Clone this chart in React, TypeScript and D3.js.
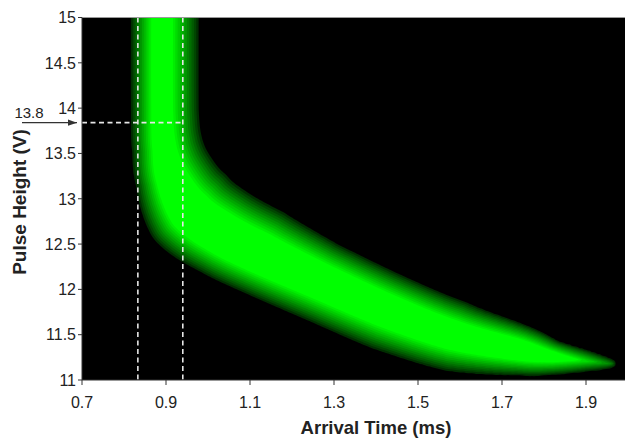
import React, { useMemo } from "react";
import * as d3 from "d3";

const xTicks = [0.7, 0.9, 1.1, 1.3, 1.5, 1.7, 1.9];
const yTicks = [11, 11.5, 12, 12.5, 13, 13.5, 14, 14.5, 15];
const yTickLabels = ["11", "11.5", "12", "12.5", "13", "13.5", "14", "14.5", "15"];

// ridge of the pulse-height / arrival-time density
const ridgeTime = [0.888, 0.888, 0.893, 0.910, 0.955, 1.029, 1.124, 1.267, 1.426, 1.583, 1.743, 1.821, 1.902, 1.962];
const ridgeHeight = [15.31, 13.98, 13.54, 13.21, 12.85, 12.60, 12.38, 12.09, 11.77, 11.50, 11.33, 11.26, 11.21, 11.18];
// half-width of the populated band above/right and below/left of the ridge (ms), relative peak density
const spreadUpper = [0.093, 0.093, 0.100, 0.114, 0.129, 0.124, 0.119, 0.100, 0.093, 0.086, 0.062, 0.040, 0.026, 0.010];
const spreadLower = [0.074, 0.074, 0.076, 0.085, 0.108, 0.102, 0.100, 0.100, 0.100, 0.090, 0.062, 0.045, 0.026, 0.010];
const ridgeDensity = [1.45, 1.45, 1.5, 1.65, 1.8, 1.85, 1.85, 1.8, 1.75, 1.7, 1.7, 1.45, 0.9, 0.4];

const levels = d3.range(12).map((i) => 0.05 + (i * 0.95) / 11);

const gateTimes = [0.833, 0.94];
const gateHeight = 13.84;
const gateLabel = "13.8";

export default function App() {
  const W = 625, H = 438;
  const left = 82, top = 17.5, bottom = 380, right = 628;
  const x = d3.scaleLinear().domain([0.7, 2.0]).range([left, right]);
  const y = d3.scaleLinear().domain([11, 15]).range([bottom, top]);

  const contours = useMemo(() => {
    const step = 2;
    const nx = Math.ceil((W - left) / step) + 2;
    const ny = Math.ceil((bottom - top) / step) + 2;
    const n = ridgeTime.length;
    const P = ridgeTime.map((t, i) => [x(t), y(ridgeHeight[i])]);
    const ru = spreadUpper.map((s, i) => x(ridgeTime[i] + s) - x(ridgeTime[i]));
    const rl = spreadLower.map((s, i) => x(ridgeTime[i] + s) - x(ridgeTime[i]));
    // dense Catmull-Rom sampling of the ridge
    const S: { x: number; y: number; ru: number; rl: number; a: number }[] = [];
    const sub = 8;
    for (let i = 0; i < n - 1; i++) {
      const p0 = P[Math.max(0, i - 1)], p1 = P[i], p2 = P[i + 1], p3 = P[Math.min(n - 1, i + 2)];
      for (let k = 0; k < sub; k++) {
        const t = k / sub, t2 = t * t, t3 = t2 * t;
        const cr = (a: number, b: number, c: number, d: number) =>
          0.5 * (2 * b + (-a + c) * t + (2 * a - 5 * b + 4 * c - d) * t2 + (-a + 3 * b - 3 * c + d) * t3);
        S.push({
          x: cr(p0[0], p1[0], p2[0], p3[0]),
          y: cr(p0[1], p1[1], p2[1], p3[1]),
          ru: ru[i] + t * (ru[i + 1] - ru[i]),
          rl: rl[i] + t * (rl[i + 1] - rl[i]),
          a: ridgeDensity[i] + t * (ridgeDensity[i + 1] - ridgeDensity[i]),
        });
      }
    }
    S.push({ x: P[n - 1][0], y: P[n - 1][1], ru: ru[n - 1], rl: rl[n - 1], a: ridgeDensity[n - 1] });

    const vals = new Float64Array(nx * ny);
    for (let j = 0; j < ny; j++) {
      const py = top + j * step;
      for (let i = 0; i < nx; i++) {
        const px = left + i * step;
        let best = 0;
        for (let k = 0; k < S.length - 1; k++) {
          const A0 = S[k], B0 = S[k + 1];
          const dx = B0.x - A0.x, dy = B0.y - A0.y;
          const L2 = dx * dx + dy * dy;
          if (L2 === 0) continue;
          let u = ((px - A0.x) * dx + (py - A0.y) * dy) / L2;
          u = Math.max(0, Math.min(1, u));
          const cx = A0.x + u * dx, cy = A0.y + u * dy;
          const d = Math.hypot(px - cx, py - cy);
          const cross = dx * (py - A0.y) - dy * (px - A0.x);
          const R = cross < 0 ? A0.ru + u * (B0.ru - A0.ru) : A0.rl + u * (B0.rl - A0.rl);
          const A = A0.a + u * (B0.a - A0.a);
          const v = A * Math.max(0, 1 - d / R);
          if (v > best) best = v;
        }
        vals[j * nx + i] = best;
      }
    }
    const cs = d3.contours().size([nx, ny]).thresholds(levels)(Array.from(vals));
    const path = d3.geoPath(d3.geoIdentity().scale(step).translate([left - 0.5 * step, top - 0.5 * step]) as any);
    return cs.map((c) => ({ value: c.value, d: path(c as any) || "" }));
  }, []);

  const color = (i: number) => d3.interpolateRgb("#002e00", "#00ff00")(Math.pow(i / (levels.length - 1), 0.9));
  const font = "'Liberation Sans', Arial, sans-serif";

  return (
    <svg width={W} height={H} style={{ position: "absolute", left: 0, top: 0, background: "#fff" }}>
      <defs>
        <clipPath id="plotclip">
          <rect x={left} y={top} width={W - left} height={bottom - top} />
        </clipPath>
        <marker id="arrow" viewBox="0 0 10 10" refX="10" refY="5" markerWidth="7" markerHeight="7" orient="auto">
          <path d="M0,1.5 L10,5 L0,8.5 z" fill="#333" />
        </marker>
      </defs>
      <rect x={left} y={top} width={W - left} height={bottom - top} fill="#000" />
      <g clipPath="url(#plotclip)">
        {contours.map((c, i) => (
          <path key={i} d={c.d} fill={color(i)} stroke="none" />
        ))}
        {gateTimes.map((t, i) => (
          <line key={i} x1={x(t)} x2={x(t)} y1={top} y2={bottom} stroke="#e6e6e6" strokeWidth={1.6} strokeDasharray="5,3.5" />
        ))}
        <line x1={left} x2={x(gateTimes[1])} y1={y(gateHeight)} y2={y(gateHeight)} stroke="#e6e6e6" strokeWidth={1.6} strokeDasharray="5,3.5" />
      </g>
      <line x1={left} x2={W} y1={top} y2={top} stroke="#9a9a9a" strokeWidth={1.2} />
      <line x1={left} x2={W} y1={bottom} y2={bottom} stroke="#333" strokeWidth={1} />
      <line x1={left} x2={left} y1={top} y2={bottom} stroke="#333" strokeWidth={1} />
      {xTicks.map((t) => (
        <g key={t}>
          <line x1={x(t)} x2={x(t)} y1={bottom} y2={bottom + 5} stroke="#333" />
          <text x={x(t)} y={408} textAnchor="middle" fontFamily={font} fontSize={16} fill="#222">
            {t.toFixed(1)}
          </text>
        </g>
      ))}
      {yTicks.map((v, i) => (
        <g key={v}>
          <line x1={left - 4} x2={left} y1={y(v)} y2={y(v)} stroke="#333" />
          <text x={left - 6} y={y(v)} dy="0.36em" textAnchor="end" fontFamily={font} fontSize={16} fill="#222">
            {yTickLabels[i]}
          </text>
        </g>
      ))}
      <line x1={22} x2={77} y1={y(gateHeight)} y2={y(gateHeight)} stroke="#333" strokeWidth={1.3} markerEnd="url(#arrow)" />
      <text x={29} y={118} textAnchor="middle" fontFamily={font} fontSize={15} fill="#222">
        {gateLabel}
      </text>
      <text x={376} y={434} textAnchor="middle" fontFamily={font} fontSize={18.5} fontWeight="bold" fill="#222">
        Arrival Time (ms)
      </text>
      <text transform="translate(26,202) rotate(-90)" textAnchor="middle" fontFamily={font} fontSize={19} fontWeight="bold" fill="#222">
        Pulse Height (V)
      </text>
    </svg>
  );
}
